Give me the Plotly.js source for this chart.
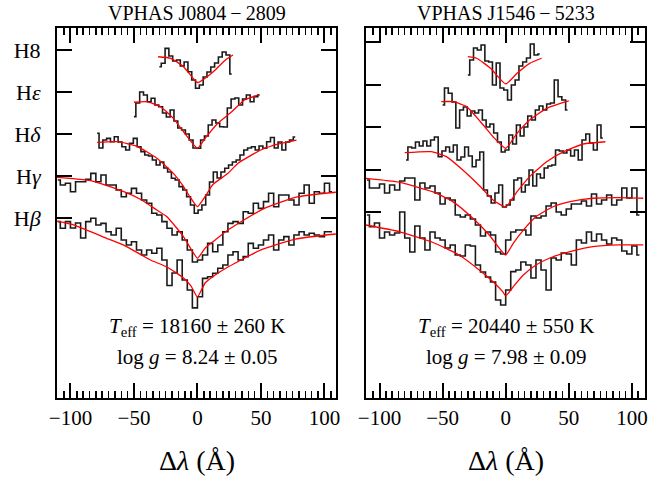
<!DOCTYPE html>
<html>
<head>
<meta charset="utf-8">
<script src="https://cdn.plot.ly/plotly-3.0.1.min.js"></script>
<style>html,body{margin:0;padding:0;background:#fff;}#plot{width:668px;height:479px;}</style>
</head>
<body>
<div id="plot"></div>
<script>
// ---- wavelength grids (Δλ, Å) ----
const waveBG = [-110,-106,-102,-98,-94,-90,-86,-82,-78,-74,-70,-66,-62,-58,-54,-50,-46,-42,-38,-34,-30,-26,-22,-18,-14,-10,-6,-2,2,6,10,14,18,22,26,30,34,38,42,46,50,54,58,62,66,70,74,78,82,86,90,94,98,102,106];
const waveD = [-79,-76,-73,-70,-67,-64,-61,-58,-55,-52,-49,-46,-43,-40,-37,-34,-31,-28,-25,-22,-19,-16,-13,-10,-7,-4,-1,2,5,8,11,14,17,20,23,26,29,32,35,38,41,44,47,50,53,56,59,62,65,68,71,74,77];
const waveE = [-50,-47,-44,-41,-38,-35,-32,-29,-26,-23,-20,-17,-14,-11,-8,-5,-2,1,4,7,10,13,16,19,22,25,28,31,34,37,40,43,46,49];
const wave8 = [-30,-27,-24,-21,-18,-15,-12,-9,-6,-3,0,3,6,9,12,15,18,21,24,27];

// vertical offsets for Hβ, Hγ, Hδ, Hε, H8
const offsets = [0, 0.3, 0.6, 0.9, 1.2];
const lineLabels = ['H<i>β</i>', 'H<i>γ</i>', 'H<i>δ</i>', 'H<i>ε</i>', 'H8'];
const tickPositions = [1.0, 1.3, 1.6, 1.9, 2.2];
const xMajorTicks = [-100, -50, 0, 50, 100];
const xMajorLabels = ['−100', '−50', '0', '50', '100'];

// ---- VPHAS J0804-2809: observed normalised flux ----
const obsA_Hb = [0.976,0.929,0.976,0.931,0.966,0.859,0.976,1.000,0.952,0.964,0.904,0.881,0.929,0.845,0.809,0.833,0.774,0.738,0.774,0.750,0.786,0.702,0.520,0.609,0.702,0.559,0.488,0.360,0.440,0.571,0.583,0.607,0.643,0.666,0.738,0.761,0.702,0.726,0.821,0.786,0.809,0.845,0.881,0.774,0.845,0.869,0.809,0.881,0.904,0.881,0.893,0.881,0.869,0.904,0.904];
const obsA_Hg = [0.974,0.938,0.950,0.890,0.961,0.961,0.979,1.021,0.961,1.009,0.938,0.938,0.902,0.854,0.879,0.914,0.879,0.831,0.807,0.736,0.724,0.676,0.629,0.581,0.604,0.545,0.474,0.388,0.402,0.438,0.521,0.461,0.509,0.604,0.664,0.676,0.664,0.747,0.736,0.807,0.771,0.819,0.879,0.783,0.866,0.866,0.831,0.795,0.879,0.938,0.807,0.890,0.879,0.950,0.890];
const obsA_Hd = [1.007,0.902,0.959,0.971,0.947,0.983,0.945,0.911,0.888,0.936,0.971,0.911,0.876,0.852,0.845,0.816,0.781,0.802,0.759,0.731,0.686,0.674,0.626,0.602,0.554,0.495,0.436,0.459,0.495,0.566,0.659,0.731,0.688,0.731,0.757,0.781,0.802,0.816,0.852,0.888,0.902,0.911,0.888,0.916,0.900,0.947,0.977,0.902,0.945,0.888,0.945,0.959,0.981];
const obsA_He = [0.826,0.924,1.002,0.981,0.933,0.957,0.909,0.897,0.852,0.824,0.874,0.795,0.745,0.731,0.702,0.659,0.602,0.600,0.659,0.688,0.766,0.802,0.781,0.754,0.752,0.888,0.952,0.959,0.909,0.952,0.981,0.933,0.969,0.981];
const obsA_H8 = [0.883,0.907,1.014,0.959,0.924,0.931,0.888,0.916,0.847,0.788,0.729,0.752,0.809,0.845,0.881,0.909,0.952,0.988,0.966,0.831];

// ---- VPHAS J0804-2809: model fits ----
const modA_Hb_x = [-111,-97,-74,-58,-37,-24,-11,-5,0,6,14,24,50,77,109];
const modA_Hb_y = [0.981,0.952,0.866,0.809,0.702,0.652,0.574,0.516,0.438,0.538,0.595,0.652,0.774,0.852,0.888];
const modA_Hg_x = [-111,-84,-58,-45,-32,-24,-11,0,6,14,24,50,77,109];
const modA_Hg_y = [0.993,0.969,0.890,0.836,0.759,0.711,0.569,0.416,0.486,0.545,0.616,0.759,0.850,0.886];
const modA_Hd_x = [-79,-63,-48,-32,-19,-12,-6,0,6,12,24,32,50,64,78];
const modA_Hd_y = [0.943,0.947,0.916,0.829,0.721,0.640,0.554,0.483,0.554,0.640,0.721,0.793,0.888,0.931,0.959];
const modA_He_x = [-50,-40,-29,-19,-8,0,6,16,27,37,48];
const modA_He_y = [0.929,0.933,0.897,0.814,0.683,0.600,0.671,0.779,0.861,0.945,0.981];
const modA_H8_x = [-31,-21,-11,0,6,14,22,28];
const modA_H8_y = [0.954,0.943,0.883,0.770,0.800,0.859,0.931,0.966];

// ---- VPHAS J1546-5233: observed normalised flux ----
const obsB_Hb = [0.981,0.899,0.925,0.819,0.861,0.840,0.854,1.002,0.819,0.720,0.904,0.819,0.735,0.861,0.819,0.805,0.749,0.770,0.699,0.692,0.770,0.763,0.629,0.580,0.544,0.509,0.382,0.347,0.453,0.582,0.594,0.650,0.629,0.537,0.664,0.594,0.453,0.678,0.664,0.713,0.706,0.629,0.805,0.784,0.861,0.798,0.847,0.805,0.777,0.819,0.805,0.727,0.706,0.763,0.699];
const obsB_Hg = [0.927,0.871,0.871,0.899,0.836,0.892,0.857,0.920,0.942,0.942,0.787,0.906,0.871,0.885,0.836,0.758,0.801,0.787,0.681,0.667,0.681,0.653,0.611,0.533,0.561,0.540,0.420,0.406,0.505,0.561,0.575,0.575,0.540,0.674,0.660,0.674,0.744,0.765,0.702,0.681,0.723,0.758,0.758,0.780,0.744,0.829,0.758,0.787,0.822,0.751,0.787,0.871,0.801,0.871,0.681];
const obsB_Hd = [0.768,0.860,0.853,0.895,0.867,0.902,0.867,0.909,0.930,0.792,0.832,0.860,0.825,0.874,0.768,0.789,0.860,0.796,0.721,0.768,0.825,0.557,0.515,0.465,0.536,0.592,0.437,0.451,0.487,0.627,0.642,0.543,0.592,0.698,0.585,0.670,0.642,0.712,0.726,0.733,0.839,0.832,0.818,0.839,0.796,0.839,0.768,0.909,0.951,0.888,0.839,1.015,0.923];
const obsB_He = [0.856,0.975,0.938,0.877,0.694,0.820,0.842,0.778,0.813,0.799,0.820,0.750,0.701,0.722,0.658,0.595,0.525,0.539,0.644,0.581,0.715,0.637,0.701,0.778,0.750,0.820,0.849,0.820,0.863,0.870,1.032,0.914,0.891,0.820];
const obsB_H8 = [0.767,0.873,0.957,0.943,0.978,0.865,0.858,0.696,0.851,0.675,0.661,0.591,0.696,0.732,0.830,0.858,0.887,0.985,0.908,0.915];

// ---- VPHAS J1546-5233: model fits ----
const modB_Hb_x = [-111,-84,-58,-37,-21,-10,-2.4,0,6,14,24,37.5,51,69,90,109];
const modB_Hb_y = [0.911,0.863,0.789,0.699,0.594,0.511,0.441,0.411,0.476,0.558,0.629,0.687,0.723,0.758,0.770,0.770];
const modB_Hg_x = [-111,-84,-58,-42,-26,-13,-5,0,6,14,24,37.5,51,69,90,109];
const modB_Hg_y = [0.939,0.911,0.845,0.775,0.658,0.540,0.446,0.399,0.482,0.575,0.669,0.739,0.775,0.799,0.803,0.799];
const modB_Hd_x = [-80,-59,-47,-34,-20,-10,0,9,19,32.5,46,61.5,79];
const modB_Hd_y = [0.820,0.827,0.792,0.698,0.580,0.487,0.439,0.545,0.651,0.756,0.827,0.881,0.897];
const modB_He_x = [-51,-41.5,-31,-20,-10,0,9,19,32.5,50];
const modB_He_y = [0.879,0.879,0.844,0.738,0.632,0.551,0.656,0.750,0.832,0.884];
const modB_H8_x = [-30,-23,-12,0,9,19,28.5];
const modB_H8_y = [0.896,0.885,0.814,0.704,0.779,0.849,0.885];

const panelTitles = ['VPHAS J0804\u2009−\u20092809', 'VPHAS J1546\u2009−\u20095233'];
const teffText = ['<i>T</i><sub>eff</sub> = 18160 ± 260 K', '<i>T</i><sub>eff</sub> = 20440 ± 550 K'];
const loggText = ['log <i>g</i> = 8.24 ± 0.05', 'log <i>g</i> = 7.98 ± 0.09'];

const panels = [
  {xa:'x', ya:'y',
   obs:[[waveBG,obsA_Hb],[waveBG,obsA_Hg],[waveD,obsA_Hd],[waveE,obsA_He],[wave8,obsA_H8]],
   mod:[[modA_Hb_x,modA_Hb_y],[modA_Hg_x,modA_Hg_y],[modA_Hd_x,modA_Hd_y],[modA_He_x,modA_He_y],[modA_H8_x,modA_H8_y]]},
  {xa:'x2', ya:'y2',
   obs:[[waveBG,obsB_Hb],[waveBG,obsB_Hg],[waveD,obsB_Hd],[waveE,obsB_He],[wave8,obsB_H8]],
   mod:[[modB_Hb_x,modB_Hb_y],[modB_Hg_x,modB_Hg_y],[modB_Hd_x,modB_Hd_y],[modB_He_x,modB_He_y],[modB_H8_x,modB_H8_y]]}
];

const traces = [];
panels.forEach(p => {
  p.obs.forEach((s, k) => {
    traces.push({x:s[0], y:s[1].map(v => v + offsets[k]), xaxis:p.xa, yaxis:p.ya,
      mode:'lines', line:{shape:'hvh', color:'#1a1a1a', width:1.6}, hoverinfo:'skip'});
  });
  p.mod.forEach((s, k) => {
    traces.push({x:s[0], y:s[1].map(v => v + offsets[k]), xaxis:p.xa, yaxis:p.ya,
      mode:'lines', line:{shape:'spline', smoothing:0.5, color:'#ff0000', width:1.3}, hoverinfo:'skip'});
  });
});

const FONT = 'Liberation Serif';
function xAxis(domain, range, anchor) {
  return {domain, range, anchor, type:'linear', tickmode:'array', tickvals:xMajorTicks, ticktext:xMajorLabels,
    ticks:'inside', ticklen:15, tickwidth:2, tickcolor:'#000000', showticklabels:true,
    showline:true, linewidth:2, linecolor:'#000000', mirror:'allticks', showgrid:false, zeroline:false,
    tickfont:{family:FONT, size:21, color:'black'},
    minor:{tickmode:'linear', tick0:0, dtick:5, ticks:'inside', ticklen:7, tickwidth:1.5, tickcolor:'#000000', showgrid:false}};
}
function yAxis(domain, range, anchor, labels) {
  return {domain, range, anchor, type:'linear', tickmode:'array', tickvals:tickPositions, ticktext:lineLabels,
    showticklabels:labels, ticks:'inside', ticklen:15, tickwidth:2, tickcolor:'#000000',
    showline:true, linewidth:2, linecolor:'#000000', mirror:'allticks', showgrid:false, zeroline:false,
    tickfont:{family:FONT, size:22, color:'black'}, ticklabelstandoff:10};
}

const ann = [];
const cx = [197, 506];
for (let i = 0; i < 2; i++) {
  ann.push({text:panelTitles[i], x:cx[i]/668, y:1-13/479, xref:'paper', yref:'paper', showarrow:false,
    xanchor:'center', yanchor:'middle', font:{family:FONT, size:20, color:'black'}});
  ann.push({text:teffText[i], x:cx[i]/668, y:1-327/479, xref:'paper', yref:'paper', showarrow:false,
    xanchor:'center', yanchor:'middle', font:{family:FONT, size:21, color:'black'}});
  ann.push({text:loggText[i], x:cx[i]/668, y:1-357/479, xref:'paper', yref:'paper', showarrow:false,
    xanchor:'center', yanchor:'middle', font:{family:FONT, size:21, color:'black'}});
  ann.push({text:'Δ<i>λ</i> (Å)', x:cx[i]/668, y:1-460/479, xref:'paper', yref:'paper', showarrow:false,
    xanchor:'center', yanchor:'middle', font:{family:FONT, size:28, color:'black'}});
}

const dom = [1-398/479, 1-28/479];
const layout = {
  width:668, height:479, margin:{l:0, r:0, t:0, b:0}, showlegend:false,
  paper_bgcolor:'white', plot_bgcolor:'white',
  font:{family:FONT, color:'black'},
  xaxis: xAxis([57/668, 336/668], [-110.6, 109.1], 'y'),
  yaxis: yAxis(dom, [-0.2836, 2.3593], 'x', true),
  xaxis2: xAxis([366/668, 645/668], [-110.7, 110.4], 'y2'),
  yaxis2: yAxis(dom, [-0.3077, 2.2979], 'x2', false),
  annotations: ann
};

Plotly.newPlot('plot', traces, layout, {staticPlot:true, displayModeBar:false});
</script>
</body>
</html>
